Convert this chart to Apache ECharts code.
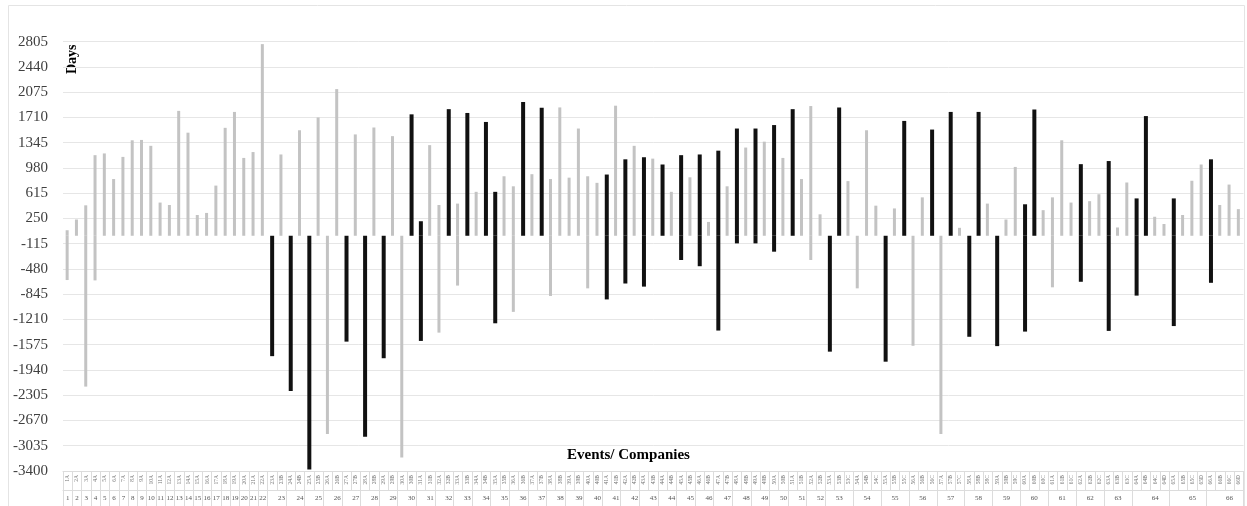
<!DOCTYPE html>
<html>
<head>
<meta charset="utf-8">
<script src="https://cdn.jsdelivr.net/npm/echarts@6/dist/echarts.min.js"></script>
<style>
  html, body { margin: 0; padding: 0; background: #fff; }
  #chart { width: 1247px; height: 506px; }
</style>
</head>
<body>
<div id="chart"></div>
<script>
// number of events per company (companies 1..66)
const groupSizes = [
  1,1,1,1,1,1,1,1,1,1,1,1,1,1,1,1,1,1,1,1,1,1,
  2,2,2,2,2,2,2,2,2,2,2,2,2,2,2,2,2,2,2,2,2,2,2,2,2,2,2,2,2,2,
  3,3,3,3,3,3,3,3,3,3,3,4,4,4
];

// upper end of each event bar (days), 10 per row
const highs = [
  80, 235, 440, 1165, 1190, 820, 1140, 1380, 1385, 1300,
  480, 445, 1805, 1490, 300, 330, 725, 1560, 1790, 1125,
  1210, 2770, 0, 1175, 0, 1525, 0, 1710, 0, 2120,
  0, 1465, 0, 1565, 0, 1440, 0, 1755, 210, 1310,
  445, 1830, 465, 1775, 635, 1645, 635, 860, 715, 1935,
  890, 1850, 820, 1855, 840, 1550, 860, 765, 885, 1880,
  1105, 1300, 1135, 1115, 1030, 635, 1165, 845, 1175, 200,
  1230, 715, 1550, 1275, 1550, 1360, 1600, 1125, 1830, 820,
  1875, 310, 0, 1855, 790, 0, 1525, 435, 0, 395,
  1660, 0, 555, 1535, 0, 1790, 115, 0, 1790, 465,
  0, 235, 995, 455, 1825, 370, 555, 1380, 480, 1035,
  500, 600, 1080, 120, 770, 540, 1730, 275, 170, 540,
  300, 795, 1030, 1105, 445, 740, 385
];

// lower end of each event bar (days), 10 per row
const lows = [
  -640, 0, -2180, -645, 0, 0, 0, 0, 0, 0,
  0, 0, 0, 0, 0, 0, 0, 0, 0, 0,
  0, 0, -1740, 0, -2245, 0, -3380, 0, -2865, 0,
  -1530, 0, -2905, 0, -1770, 0, -3205, 0, -1520, 0,
  -1400, 0, -720, 0, 0, 0, -1265, 0, -1100, 0,
  0, 0, -870, 0, 0, 0, -760, 0, -920, 0,
  -690, 0, -735, 0, 0, 0, -350, 0, -440, 0,
  -1370, 0, -110, 0, -110, 0, -230, 0, 0, 0,
  -350, 0, -1675, 0, 0, -760, 0, 0, -1820, 0,
  0, -1590, 0, 0, -2865, 0, 0, -1460, 0, 0,
  -1595, 0, 0, -1385, 0, 0, -745, 0, 0, -665,
  0, 0, -1375, 0, 0, -865, 0, 0, 0, -1305,
  0, 0, 0, -680, 0, 0, 0
];

// G = grey bar, B = black bar, 10 per row
const kinds = [
  "GGGGGGGGGG",
  "GGGGGGGGGG",
  "GGBGBGBGGG",
  "BGBGBGGBBG",
  "GBGBGBBGGB",
  "GBGGGGGGBG",
  "BGBGBGBGBG",
  "BGBGBGBGBG",
  "GGBBGGGGBG",
  "BGGBGBGBBG",
  "BGGBBGGGGB",
  "GGBGGBBGGB",
  "GGGBGGG"
].join('');

const yMin = -3400, yMax = 2805, yStep = 365;

const letters = "ABCD";
const eventLabels = [];
const companyCenters = [];
const boundaries = new Set();
let idx = 0;
groupSizes.forEach((n, c) => {
  boundaries.add(idx);
  companyCenters.push([idx + (n - 1) / 2, yMin, c + 1]);
  for (let j = 0; j < n; j++) { eventLabels.push((c + 1) + letters[j]); idx++; }
});

const pick = (arr, k) => arr.map((v, i) => (kinds[i] === k && v !== 0 ? v : '-'));

const serif = '"Liberation Serif", "DejaVu Serif", serif';
const lineColor = '#dcdcdc';
const greyColor = '#c3c3c3';
const blackColor = '#111111';

const chart = echarts.init(document.getElementById('chart'));
chart.setOption({
  animation: false,
  backgroundColor: '#ffffff',
  grid: { left: 63, right: 3.5, top: 41.7, bottom: 35 },
  graphic: [
    { type: 'rect', shape: { x: 8.5, y: 5.5, width: 1236, height: 502 }, style: { fill: 'none', stroke: '#e4e4e4', lineWidth: 1 }, silent: true },
    { type: 'text', x: 65, y: 74, rotation: Math.PI / 2, style: { text: 'Days', font: 'bold 14px ' + serif, fill: '#000', align: 'left', verticalAlign: 'top' }, silent: true },
    { type: 'text', x: 567, y: 455, style: { text: 'Events/ Companies', font: 'bold 15px ' + serif, fill: '#000', align: 'left', verticalAlign: 'middle' }, silent: true }
  ],
  xAxis: [
    {
      type: 'category',
      data: eventLabels,
      position: 'bottom',
      axisLine: { onZero: false, lineStyle: { color: lineColor } },
      axisTick: { show: true, interval: 0, length: 19, lineStyle: { color: lineColor } },
      axisLabel: { interval: 0, rotate: 90, fontSize: 5.5, color: '#777', fontFamily: serif, margin: 4 },
      splitLine: { show: false }
    },
    {
      type: 'category',
      data: eventLabels,
      position: 'bottom',
      offset: 19,
      axisLine: { onZero: false, lineStyle: { color: lineColor } },
      axisTick: { show: true, interval: (i) => boundaries.has(i), length: 16, lineStyle: { color: lineColor } },
      axisLabel: { show: false },
      splitLine: { show: false }
    }
  ],
  yAxis: {
    type: 'value',
    min: yMin,
    max: yMax,
    interval: yStep,
    axisLine: { show: false },
    axisTick: { show: false },
    axisLabel: { fontFamily: serif, fontSize: 15, color: '#404040', margin: 15, formatter: (v) => String(v) },
    splitLine: { lineStyle: { color: '#e6e6e6', width: 1 } }
  },
  series: [
    { name: 'grey-hi', type: 'bar', stack: 'g', data: pick(highs, 'G'), barWidth: 3, barGap: '-100%', itemStyle: { color: greyColor } },
    { name: 'grey-lo', type: 'bar', stack: 'g', data: pick(lows, 'G'), barWidth: 3, barGap: '-100%', itemStyle: { color: greyColor } },
    { name: 'black-hi', type: 'bar', stack: 'b', data: pick(highs, 'B'), barWidth: 4, barGap: '-100%', itemStyle: { color: blackColor } },
    { name: 'black-lo', type: 'bar', stack: 'b', data: pick(lows, 'B'), barWidth: 4, barGap: '-100%', itemStyle: { color: blackColor } },
    {
      name: 'companies',
      type: 'custom',
      xAxisIndex: 0,
      data: companyCenters,
      silent: true,
      renderItem: function (params, api) {
        const p = api.coord([api.value(0), api.value(1)]);
        return {
          type: 'text',
          x: p[0],
          y: p[1] + 27,
          style: { text: String(api.value(2)), font: '7px ' + serif, fill: '#555', align: 'center', verticalAlign: 'middle' }
        };
      }
    }
  ]
});
</script>
</body>
</html>
